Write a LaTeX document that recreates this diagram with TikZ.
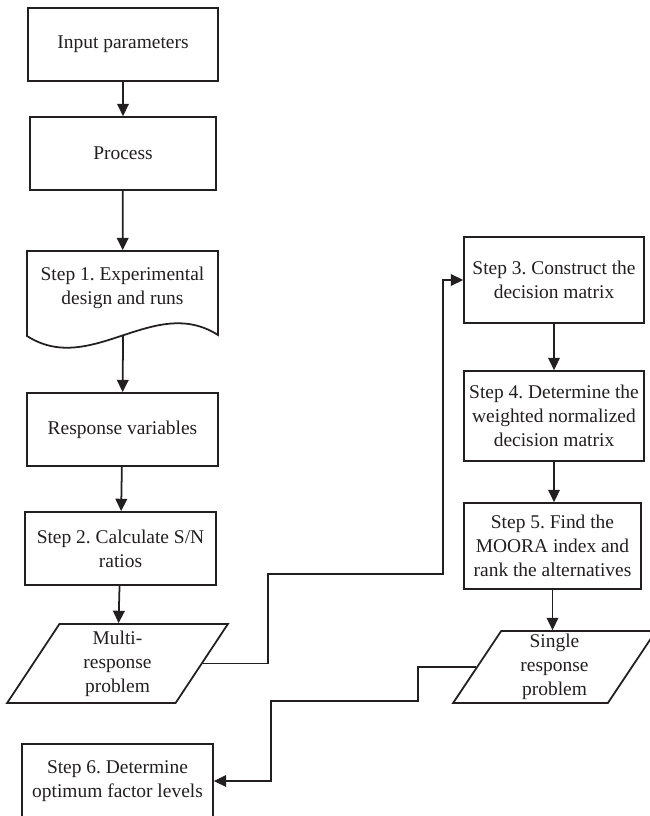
\documentclass[tikz,border=0pt]{standalone}
\usepackage{fontspec}
\setmainfont{Liberation Serif}
\usetikzlibrary{arrows.meta,shapes.geometric}
\definecolor{flowink}{HTML}{231F20}
\frenchspacing

\tikzset{
    stepbox/.style={rectangle,draw=flowink,line width=1.5pt,text=flowink,align=center,inner sep=1pt,font=\fontsize{16.6}{20.5}\selectfont},
    iobox/.style={trapezium,trapezium left angle=65,trapezium right angle=115,trapezium stretches=true,draw=flowink,line width=1.5pt,text=flowink,align=center,inner sep=0.5pt,font=\fontsize{16.6}{20.5}\selectfont},
    arr/.style={draw=flowink,line width=1.5pt,-{Triangle[length=0.37cm,width=0.35cm]}},
}

\begin{document}
\begin{tikzpicture}[x=0.03cm,y=-0.03cm]
    \useasboundingbox (0,0) rectangle (650,816);
    % left column
    \node[stepbox,minimum width=5.7cm,minimum height=2.19cm] (input) at (123,44.5) {Input parameters};
    \node[stepbox,minimum width=5.58cm,minimum height=2.19cm] (process) at (123,153.5) {Process};
    \node[stepbox,draw=none,minimum width=5.73cm,minimum height=2.19cm] (step1) at (122.5,287.5) {Step 1. Experimental\\design and runs};
    \draw[flowink,line width=1.5pt] (27,251) -- (218,251) -- (218,335) .. controls (154,294) and (91,377) .. (27,336) -- cycle;
    \coordinate (step1bot) at (123,336);
    \node[stepbox,minimum width=5.73cm,minimum height=2.19cm] (resp) at (122.5,429.5) {Response variables};
    \node[stepbox,minimum width=5.73cm,minimum height=2.19cm] (step2) at (120.5,548.5) {Step 2. Calculate S/N\\ratios};
    \node[iobox,minimum width=6.63cm,minimum height=2.37cm] (multi) at (117.5,663.5) {Multi-\\response\\problem};
    \node[stepbox,minimum width=5.73cm,minimum height=2.22cm] (step6) at (117.5,781) {Step 6. Determine\\optimum factor levels};
    % right column
    \node[stepbox,minimum width=5.4cm,minimum height=2.58cm] (step3) at (554,280) {Step 3. Construct the\\decision matrix};
    \node[stepbox,minimum width=5.4cm,minimum height=2.7cm] (step4) at (554,416) {Step 4. Determine the\\weighted normalized\\decision matrix};
    \node[stepbox,minimum width=5.31cm,minimum height=2.58cm] (step5) at (552.5,546) {Step 5. Find the\\MOORA index and\\rank the alternatives};
    \node[iobox,minimum width=6.09cm,minimum height=2.16cm] (single) at (554.5,667) {Single\\response\\problem};
    % connectors
    \draw[arr] (input) -- (process);
    \draw[arr] (process) -- (step1);
    \draw[arr] (step1bot) -- (resp);
    \draw[arr] (resp) -- (step2);
    \draw[arr] (step2) -- (multi);
    \draw[arr] (multi.east) -| (268,574) -| (443,280) -- (step3.west);
    \draw[arr] (step3) -- (step4);
    \draw[arr] (step4.south) -- (step4.south |- step5.north);
    \draw[arr] (step5.south) -- (step5.south |- single.north);
    \draw[arr] (single.west) -| (418,701) -| (271,781) -- (step6.east);
\end{tikzpicture}
\end{document}
